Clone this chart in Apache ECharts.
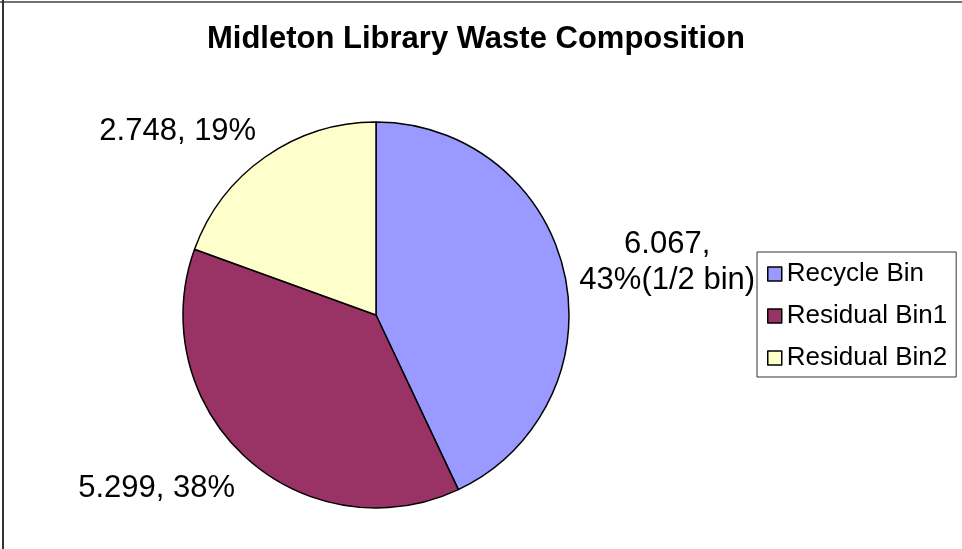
<!DOCTYPE html>
<html>
<head>
<meta charset="utf-8">
<script src="https://cdn.jsdelivr.net/npm/echarts@6/dist/echarts.min.js"></script>
<style>
  html, body { margin: 0; padding: 0; background: #fff; }
  #chart { width: 962px; height: 549px; }
</style>
</head>
<body>
<div id="chart"></div>
<script>
// Waste weights per bin
const categories = ['Recycle Bin', 'Residual Bin1', 'Residual Bin2'];
const values = [6.067, 5.299, 2.748];
const notes = ['(1/2 bin)', '', ''];
const colors = ['#9999FF', '#993366', '#FFFFCC'];

// Nudges applied to each data label, relative to its default outside spot
const labelNudge = [[15, -10], [-11, 31], [-9, -26]];

const FONT = '"Liberation Sans", Arial, sans-serif';

const chart = echarts.init(document.getElementById('chart'), null, { renderer: 'canvas' });

chart.setOption({
  backgroundColor: '#ffffff',
  animation: false,
  title: {
    text: 'Midleton Library Waste Composition',
    left: 207,
    top: 24,
    padding: 0,
    textStyle: { fontFamily: FONT, fontSize: 31, fontWeight: 'bold', color: '#000' }
  },
  legend: {
    orient: 'vertical',
    left: 757,
    top: 252,
    padding: [9, 9, 6, 10],
    itemGap: 16,
    itemWidth: 14,
    itemHeight: 14,
    icon: 'rect',
    borderColor: '#333',
    borderWidth: 1,
    data: categories,
    itemStyle: { borderColor: '#000', borderWidth: 1.5 },
    textStyle: { fontFamily: FONT, fontSize: 26, lineHeight: 26, color: '#000' }
  },
  graphic: [
    { type: 'line', shape: { x1: 0, y1: 2, x2: 962, y2: 2 }, style: { stroke: '#444', lineWidth: 1.5 } },
    { type: 'line', shape: { x1: 3, y1: 0, x2: 3, y2: 549 }, style: { stroke: '#333', lineWidth: 2 } }
  ],
  series: [{
    type: 'pie',
    center: [376, 315],
    radius: 193,
    startAngle: 90,
    clockwise: true,
    avoidLabelOverlap: false,
    percentPrecision: 0,
    itemStyle: { borderColor: '#000', borderWidth: 1.5 },
    emphasis: { disabled: true },
    label: {
      show: true,
      position: 'outside',
      distanceToLabelLine: 0,
      fontFamily: FONT,
      fontSize: 31,
      lineHeight: 36,
      color: '#000',
      formatter: function (p) {
        const note = notes[p.dataIndex];
        return note ? p.value + ',\n' + p.percent + '%' + note
                    : p.value + ', ' + p.percent + '%';
      }
    },
    labelLine: { show: false, length: 0, length2: 0 },
    labelLayout: function (p) {
      const r = p.labelRect;
      const n = labelNudge[p.dataIndex];
      return {
        x: r.x + r.width / 2 + n[0],
        y: r.y + r.height / 2 + n[1],
        align: 'center',
        verticalAlign: 'middle'
      };
    },
    data: categories.map(function (name, i) {
      return { name: name, value: values[i], itemStyle: { color: colors[i] } };
    })
  }]
});
</script>
</body>
</html>
